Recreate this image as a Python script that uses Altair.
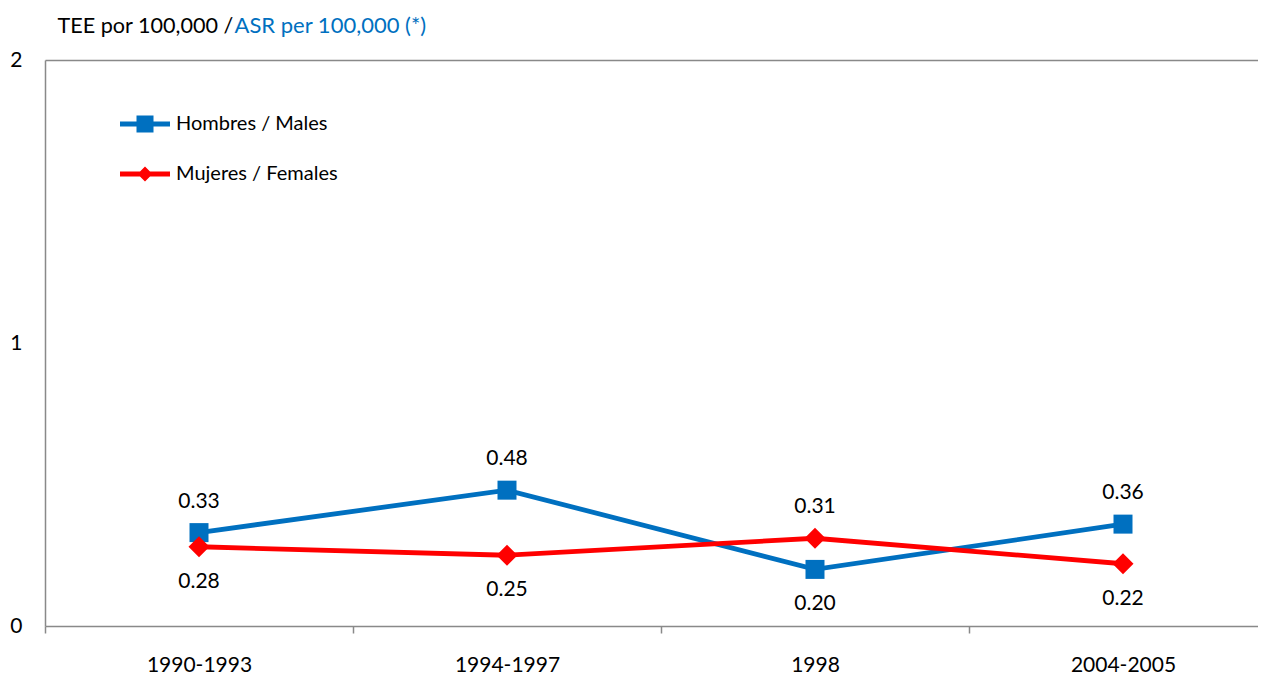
import altair as alt
import pandas as pd

categories = ["1990-1993", "1994-1997", "1998", "2004-2005"]
series = ["Hombres / Males", "Mujeres / Females"]
males = [0.33, 0.48, 0.20, 0.36]
females = [0.28, 0.25, 0.31, 0.22]
y_ticks = [0, 0.5, 1, 1.5, 2]  # only the whole numbers get a label

rows = []
for s, vals in zip(series, [males, females]):
    for c, v in zip(categories, vals):
        rows.append({"periodo": c, "serie": s, "valor": v})
df = pd.DataFrame(rows)

FONT = "Lato"
BLUE = "#0070C0"
RED = "#FF0000"
GRAY = "#898989"
FS = 21
TFS = 22

SQ = "M-1,-0.1L1,-0.1L1,0.1L-1,0.1Z M-0.34,-0.34L0.34,-0.34L0.34,0.34L-0.34,0.34Z"
DI = "M-1,-0.1L1,-0.1L1,0.1L-1,0.1Z M-0.3,0L0,-0.3L0.3,0L0,0.3Z"

xscale = alt.Scale(type="band", domain=categories, paddingInner=0, paddingOuter=0)
yscale = alt.Scale(domain=[0, 2])

x_bottom = alt.X("periodo:N", sort=categories, bandPosition=0.5, scale=xscale,
                 axis=alt.Axis(orient="bottom", title=None, labelAngle=0, tickBand="extent",
                               domainColor=GRAY, tickColor=GRAY, domainWidth=1.5,
                               tickWidth=1.5, tickSize=7, labelPadding=21,
                               labelFont=FONT, labelFontSize=FS, labelColor="black",
                               labelFontWeight="normal"))
x_top = alt.X("periodo:N", sort=categories, bandPosition=0.5, scale=xscale,
              axis=alt.Axis(orient="top", labels=False, ticks=False,
                            domainColor=GRAY, domainWidth=1.5,
                            title="TEE por 100,000 /", titleColor="black",
                            titleFont=FONT, titleFontSize=21.6, titleFontWeight="normal",
                            titleAngle=0, titleAlign="left", titleBaseline="alphabetic",
                            titleAnchor="start", titleX=12, titleY=-28))
x_none = alt.X("periodo:N", sort=categories, bandPosition=0.5, scale=xscale, axis=None)
y_enc = alt.Y("valor:Q", scale=yscale,
              axis=alt.Axis(values=y_ticks,
                            labelExpr="datum.value % 1 === 0 ? format(datum.value, 'd') : ''",
                            grid=False, ticks=False,
                            labelOverlap=False, labelFlush=False, labelBound=False,
                            domainColor=GRAY, domainWidth=1.5, labelPadding=23,
                            labelFont=FONT, labelFontSize=FS, labelColor="black",
                            title="ASR per 100,000 (*)", titleColor=BLUE,
                            titleFont=FONT, titleFontSize=TFS, titleFontWeight="normal",
                            titleAngle=0, titleAlign="left", titleBaseline="alphabetic",
                            titleX=189, titleY=-28))

specs = [
    (series[0], BLUE, "square", 361, SQ, 39),
    (series[1], RED, "diamond", 441, DI, 89),
]

line_layers = []
point_layers = []
for i, (name, col, shp, sz, path, ly) in enumerate(specs):
    sub = alt.Chart(df).transform_filter(alt.datum.serie == name)
    line_layers.append(
        sub.mark_line(strokeWidth=4.8, color=col).encode(
            x=x_bottom if i == 0 else x_none, y=y_enc))
    point_layers.append(
        sub.mark_point(filled=True, opacity=1, shape=shp, size=sz).encode(
            x=x_none, y=y_enc,
            color=alt.Color("serie:N", scale=alt.Scale(domain=[name], range=[col]),
                            legend=alt.Legend(
                                title=None, orient="none", legendX=75, legendY=ly,
                                symbolSize=2500, symbolType=path, symbolStrokeWidth=0,
                                symbolFillColor=col, symbolOpacity=1,
                                labelFont=FONT, labelFontSize=20, labelColor="black",
                                labelOffset=6, labelLimit=400, padding=0, rowPadding=0))))

lab_base = alt.Chart(df).transform_joinaggregate(
    maxv="max(valor)", groupby=["periodo"]
).transform_calculate(
    arriba="datum.valor === datum.maxv"
)
lab_up = lab_base.transform_filter("datum.arriba").mark_text(
    font=FONT, fontSize=FS, color="black", baseline="middle", dy=-31
).encode(x=x_top, y=y_enc, text=alt.Text("valor:Q", format=".2f"))
lab_down = lab_base.transform_filter("!datum.arriba").mark_text(
    font=FONT, fontSize=FS, color="black", baseline="middle", dy=35
).encode(x=x_none, y=y_enc, text=alt.Text("valor:Q", format=".2f"))

chart = alt.layer(
    line_layers[0], point_layers[0], line_layers[1], point_layers[1], lab_up, lab_down
).resolve_axis(
    x="independent"
).resolve_scale(
    color="independent"
).properties(
    width=1232, height=566,
    autosize=alt.AutoSizeParams(type="none"),
    padding={"left": 37, "top": 52, "right": -19, "bottom": 49},
).configure_view(stroke=None)

chart.save("out.html", embed_options={"renderer": "svg", "actions": False})
